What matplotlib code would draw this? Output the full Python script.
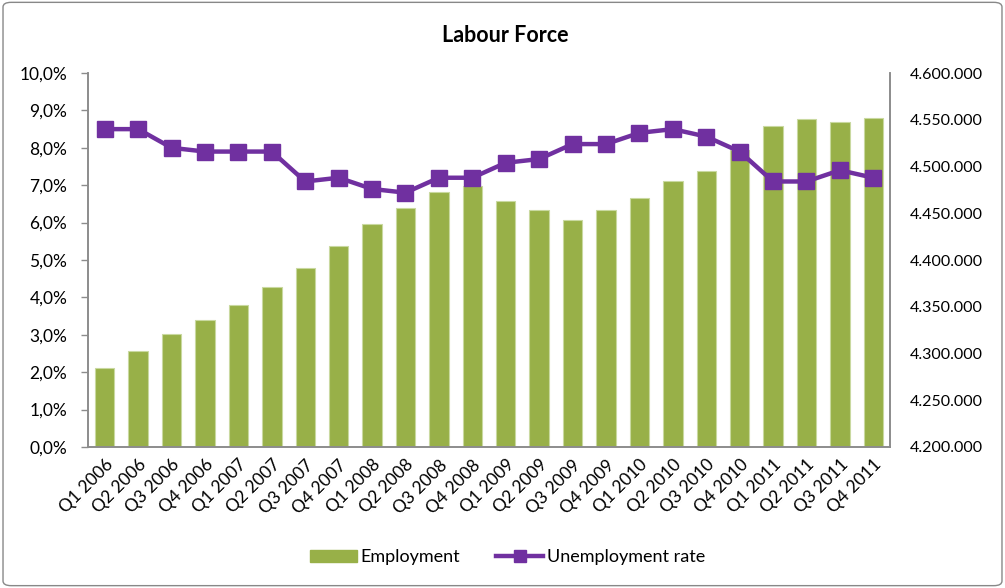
import matplotlib
matplotlib.use("Agg")
import matplotlib.pyplot as plt
from matplotlib.ticker import FuncFormatter, MultipleLocator
from matplotlib.patches import FancyBboxPatch, Patch
from matplotlib.lines import Line2D

quarters = ["Q1 2006", "Q2 2006", "Q3 2006", "Q4 2006",
            "Q1 2007", "Q2 2007", "Q3 2007", "Q4 2007",
            "Q1 2008", "Q2 2008", "Q3 2008", "Q4 2008",
            "Q1 2009", "Q2 2009", "Q3 2009", "Q4 2009",
            "Q1 2010", "Q2 2010", "Q3 2010", "Q4 2010",
            "Q1 2011", "Q2 2011", "Q3 2011", "Q4 2011"]

employment = [4285000, 4303000, 4321000, 4336000,
              4352000, 4371000, 4391000, 4415000,
              4438000, 4456000, 4473000, 4479000,
              4463000, 4454000, 4443000, 4454000,
              4466000, 4485000, 4495000, 4518000,
              4543000, 4551000, 4548000, 4552000]

unemployment_rate = [8.5, 8.5, 8.0, 7.9,
                     7.9, 7.9, 7.1, 7.2,
                     6.9, 6.8, 7.2, 7.2,
                     7.6, 7.7, 8.1, 8.1,
                     8.4, 8.5, 8.3, 7.9,
                     7.1, 7.1, 7.4, 7.2]

GREEN = "#98B048"
PURPLE = "#7030A0"
GRID = "#8C8C8C"

plt.rcParams["font.family"] = ["Lato", "DejaVu Sans"]

fig = plt.figure(figsize=(10.05, 5.88), dpi=100)
ax = fig.add_axes([0.0876, 0.2398, 0.798, 0.636])
ax2 = ax.twinx()

x = list(range(len(quarters)))

# employment bars on the right-hand axis
ax2.bar(x, employment, width=0.58, color=GREEN, edgecolor="#C9D9A0",
        linewidth=0.8, zorder=2)
ax2.set_ylim(4200000, 4600000)
ax2.yaxis.set_major_locator(MultipleLocator(50000))
ax2.yaxis.set_major_formatter(
    FuncFormatter(lambda v, p: f"{int(round(v)):,}".replace(",", ".")))

# unemployment rate line on the left-hand axis, drawn above the bars
ax.set_zorder(ax2.get_zorder() + 1)
ax.patch.set_visible(False)
ax.plot(x, unemployment_rate, color=PURPLE, linewidth=3.2, marker="s",
        markersize=11, markerfacecolor=PURPLE, markeredgecolor=PURPLE,
        zorder=5, clip_on=False)
ax.set_ylim(0, 10)
ax.yaxis.set_major_locator(MultipleLocator(1))
ax.yaxis.set_major_formatter(
    FuncFormatter(lambda v, p: f"{v:.1f}".replace(".", ",") + "%"))

ax.set_xlim(-0.5, len(quarters) - 0.5)
ax.set_xticks(x)
ax.set_xticklabels(quarters, rotation=45, ha="right", rotation_mode="anchor")

for a in (ax, ax2):
    a.spines["top"].set_visible(False)
    for s in ("left", "right", "bottom"):
        a.spines[s].set_color(GRID)
        a.spines[s].set_linewidth(1.2)
    a.tick_params(axis="both", colors=GRID, labelcolor="black",
                  labelsize=12.5, length=5, width=1)
ax.tick_params(axis="x", length=0, pad=7, labelsize=12.5)
ax2.tick_params(axis="y", length=0, pad=14, labelsize=11.5)
ax.tick_params(axis="y", pad=10)

fig.text(0.503, 0.940, "Labour Force", ha="center", va="center",
         fontsize=15.5, fontweight="bold")

handles = [Patch(facecolor=GREEN, edgecolor=GREEN),
           Line2D([0], [0], color=PURPLE, linewidth=3.2, marker="s",
                  markersize=9)]
fig.legend(handles, ["Employment", "Unemployment rate"], ncol=2,
           loc="center", bbox_to_anchor=(0.505, 0.052), frameon=False,
           fontsize=13, handlelength=2.6, handletextpad=0.2,
           columnspacing=2.0)

border = FancyBboxPatch((0.003, 0.004), 0.994, 0.992,
                        boxstyle="round,pad=0,rounding_size=0.008",
                        transform=fig.transFigure, facecolor="none",
                        edgecolor="#888888", linewidth=1.0)
fig.patches.append(border)

fig.savefig("out.png", dpi=100)
